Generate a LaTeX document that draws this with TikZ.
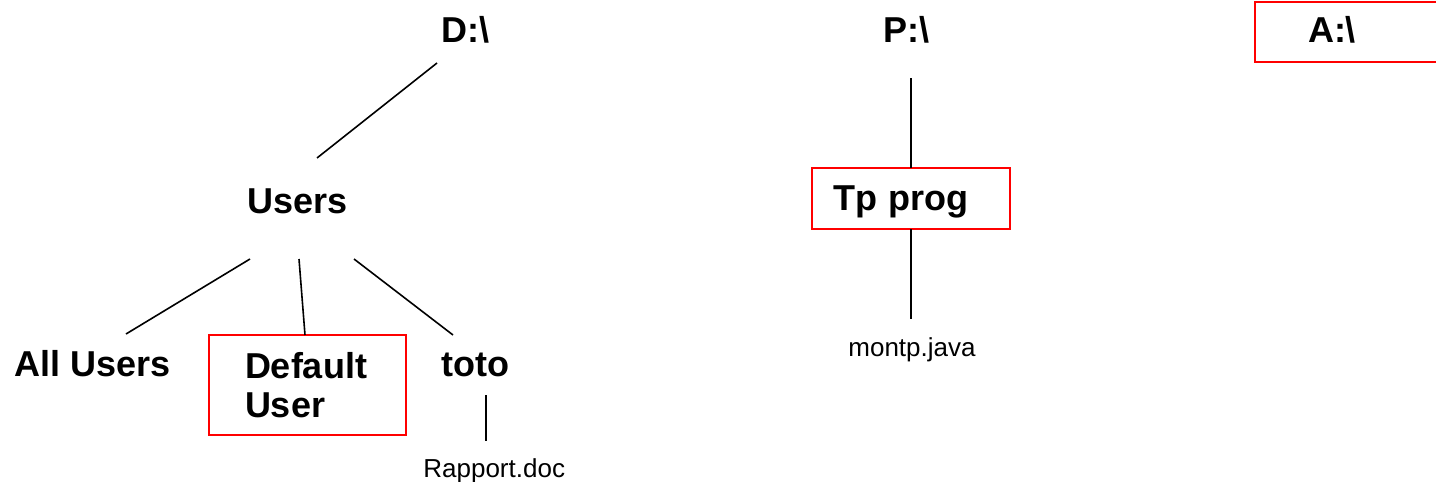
\documentclass[tikz,border=0pt]{standalone}
\usepackage{fontspec}
\setmainfont{Liberation Sans}
\usetikzlibrary{positioning,calc}

\begin{document}
\begin{tikzpicture}[
    x=0.5pt, y=-0.5pt,
    dirnode/.style={font=\bfseries\fontsize{18}{19.5}\selectfont, inner sep=0pt, anchor=base west},
    filenode/.style={font=\fontsize{13}{15}\selectfont, inner sep=0pt, anchor=base west},
    selbox/.style={draw=red, line width=1pt, align=left, inner ysep=0pt, outer sep=0pt},
    branch/.style={line width=0.8pt}
]
    \useasboundingbox (0,0) rectangle (1436,482);

    % drive D
    \node[dirnode] (dd) at (441,42) {D:\textbackslash};
    \node[dirnode] (users) at (247,213) {Users};
    \node[dirnode] (allusers) at (14,376) {All Users};
    \node[dirnode, selbox, anchor=north west, minimum width=98.5pt, minimum height=50pt,
          inner xsep=18pt, text width=62.5pt] (defuser) at (209,335) {Default\\User};
    \node[dirnode] (toto) at (441,376) {toto};
    \node[filenode] (rapport) at (423,477) {Rapport.doc};

    \draw[branch] ($(dd.base west)+(-4,21)$) -- ($(users.base west)+(70,-55)$);
    \draw[branch] ($(users.base west)+(3,46)$) -- ($(allusers.base west)+(112,-42)$);
    \draw[branch] ($(users.base west)+(52,46)$) -- ($(defuser.north)+(-2.5,0)$);
    \draw[branch] ($(users.base west)+(107,46)$) -- ($(toto.base west)+(12,-41)$);
    \draw[branch] ($(toto.base west)+(45,19)$) -- ($(rapport.base west)+(63,-36)$);

    % drive P
    \node[dirnode] (pp) at (883,42) {P:\textbackslash};
    \node[dirnode, selbox, anchor=west, minimum width=99pt, minimum height=30.5pt,
          inner xsep=10.5pt, text width=78pt, text depth=0pt] (tpprog) at (812,198.5) {Tp prog};
    \node[filenode] (montp) at (848,356) {montp.java};

    \draw[branch] ($(pp.base west)+(28,36)$) -- (tpprog.north);
    \draw[branch] (tpprog.south) -- ($(montp.base west)+(63,-37)$);

    % drive A
    \node[dirnode, selbox, anchor=north west, minimum height=30pt,
          inner xsep=26.5pt, text width=80pt, text depth=2.9pt] (aa) at (1255,2) {A:\textbackslash};
\end{tikzpicture}
\end{document}
